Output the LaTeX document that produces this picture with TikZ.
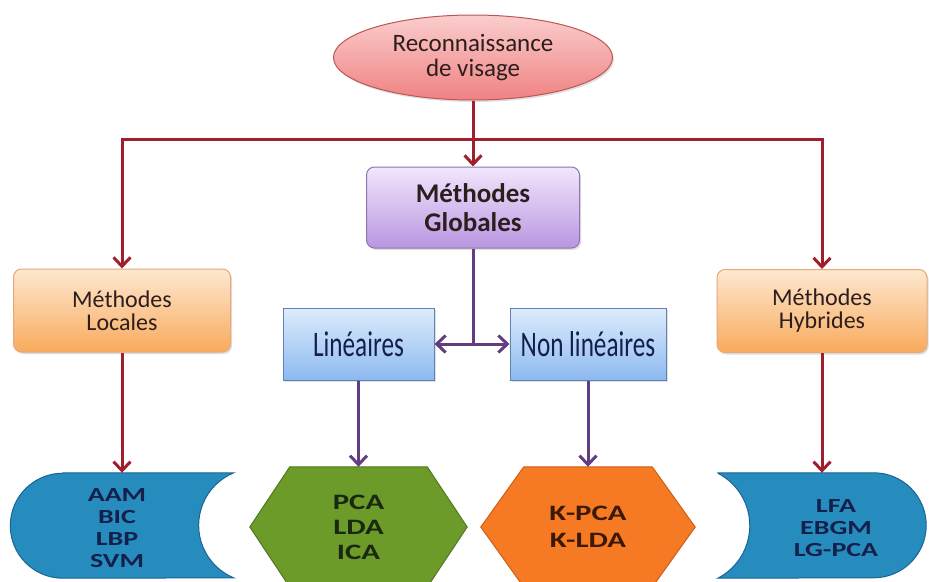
\documentclass[tikz,border=0pt]{standalone}
\usepackage{fontspec}
\setmainfont{Carlito}
\newfontfamily\condfont[FakeStretch=0.7]{Carlito}
\newfontfamily\widefont[FakeStretch=1.4]{Carlito}
\usetikzlibrary{shapes.geometric,arrows.meta,backgrounds,shadows}

\definecolor{linered}{RGB}{160,30,45}
\definecolor{linepurple}{RGB}{100,60,130}
\definecolor{pinktop}{RGB}{250,205,205}
\definecolor{pinkbot}{RGB}{240,130,130}
\definecolor{pinkline}{RGB}{190,85,85}
\definecolor{lilactop}{RGB}{242,230,252}
\definecolor{lilacbot}{RGB}{185,150,225}
\definecolor{lilacline}{RGB}{140,120,170}
\definecolor{peachtop}{RGB}{253,232,208}
\definecolor{peachbot}{RGB}{249,170,92}
\definecolor{peachline}{RGB}{228,170,120}
\definecolor{skytop}{RGB}{222,236,252}
\definecolor{skybot}{RGB}{140,185,240}
\definecolor{skyline}{RGB}{95,130,180}
\definecolor{seablue}{RGB}{38,140,190}
\definecolor{sealine}{RGB}{25,100,150}
\definecolor{olive}{RGB}{108,155,42}
\definecolor{oliveline}{RGB}{80,120,30}
\definecolor{tangerine}{RGB}{245,122,35}
\definecolor{tangline}{RGB}{205,95,20}
\definecolor{inkbrown}{RGB}{45,30,30}
\definecolor{inknavy}{RGB}{20,32,75}

\tikzset{
 redarrow/.style={line width=3pt, draw=linered, -{Straight Barb[length=9pt,width=17pt]}},
 purplearrow/.style={line width=3pt, draw=linepurple, -{Straight Barb[length=9pt,width=17pt]}},
 softshadow/.style={drop shadow={opacity=0.25,shadow xshift=1.5pt,shadow yshift=-2pt}},
 topbox/.style={rectangle, rounded corners=8pt, draw, line width=1pt, align=center,
   inner sep=0pt, text=inkbrown, softshadow},
 kindbox/.style={rectangle, draw=skyline, line width=1pt, top color=skytop, bottom color=skybot,
   inner sep=0pt, minimum height=72pt, text=inknavy, softshadow,
   font=\condfont\fontsize{36}{36}\selectfont},
 listnode/.style={inner sep=0pt, align=center, font=\widefont\bfseries\fontsize{20}{22}\selectfont}
}

\begin{document}
\begin{tikzpicture}[x=1pt,y=1pt]
\useasboundingbox (0,0) rectangle (929,-581);

% top
\node [ellipse, draw=pinkline, line width=1pt, top color=pinktop, bottom color=pinkbot,
  minimum width=279pt, minimum height=85pt, inner sep=0pt, align=center, text=inkbrown,
  font=\fontsize{25}{25}\selectfont, softshadow]
  (reco) at (473,-57.5) {Reconnaissance\\de visage};

\node [topbox, draw=lilacline, top color=lilactop, bottom color=lilacbot,
  minimum width=213pt, minimum height=81pt, font=\bfseries\fontsize{27}{29}\selectfont]
  (glob) at (473,-207.5) {Méthodes\\Globales};

\node [topbox, draw=peachline, top color=peachtop, bottom color=peachbot,
  minimum width=217pt, minimum height=83pt, font=\fontsize{24}{23}\selectfont]
  (loc) at (122,-310.5) {Méthodes\\Locales};

\node [topbox, draw=peachline, top color=peachtop, bottom color=peachbot,
  minimum width=210pt, minimum height=83pt, font=\fontsize{24}{23}\selectfont]
  (hyb) at (822,-311) {Méthodes\\Hybrides};

% middle
\node [kindbox, minimum width=151pt] (lin) at (358.5,-344) {Linéaires};
\node [kindbox, minimum width=156pt] (nonlin) at (588,-344) {Non linéaires};

% bottom
\node [minimum width=223pt, minimum height=105pt, inner sep=0pt,
  label={[listnode, text=inknavy, xshift=-5pt, yshift=-3pt]center:{AAM\\BIC\\LBP\\SVM}}]
  (aam) at (122,-525.5) {};
\node [minimum width=208pt, minimum height=105pt, inner sep=0pt,
  label={[listnode, text=inknavy, xshift=14pt, yshift=-3pt]center:{LFA\\EBGM\\LG-PCA}}]
  (lfa) at (822,-525.5) {};
\node [listnode, minimum width=217pt, minimum height=120pt, text={rgb,255:red,25;green,40;blue,15},
  font=\widefont\bfseries\fontsize{22}{25}\selectfont]
  (pca) at (358.5,-527) {PCA\\LDA\\ICA};
\node [listnode, minimum width=214pt, minimum height=120pt, text={rgb,255:red,60;green,25;blue,5},
  font=\widefont\bfseries\fontsize{22}{27}\selectfont]
  (kpca) at (588,-527) {K-PCA\\K-LDA};

\begin{pgfonlayer}{background}
\fill [seablue, draw=sealine, line width=1pt]
  ([xshift=52.5pt]aam.north west) -- (aam.north east)
  arc [start angle=112.6, end angle=247.4, radius=56.9]
  -- ([xshift=52.5pt]aam.south west)
  arc [start angle=270, end angle=90, radius=52.5] -- cycle;

\fill [seablue, draw=sealine, line width=1pt]
  (lfa.north west) -- ([xshift=-52.5pt]lfa.north east)
  arc [start angle=90, end angle=-90, radius=52.5]
  -- (lfa.south west)
  arc [start angle=-62.7, end angle=62.7, radius=59.1] -- cycle;

\fill [olive, draw=oliveline, line width=1pt]
  (pca.west) -- ([xshift=40pt]pca.north west) -- ([xshift=-40pt]pca.north east)
  -- (pca.east) -- ([xshift=-40pt]pca.south east) -- ([xshift=40pt]pca.south west) -- cycle;

\fill [tangerine, draw=tangline, line width=1pt]
  (kpca.west) -- ([xshift=43pt]kpca.north west) -- ([xshift=-43pt]kpca.north east)
  -- (kpca.east) -- ([xshift=-43pt]kpca.south east) -- ([xshift=43pt]kpca.south west) -- cycle;
\end{pgfonlayer}

% red links
\coordinate (bar) at (473,-139);
\draw [redarrow] (reco.south) -- (glob.north);
\draw [redarrow] (bar) -| (loc.north);
\draw [redarrow] (bar) -| (hyb.north);
\draw [redarrow] (loc.south) -- (aam.north);
\draw [redarrow] (hyb.south) -- (lfa.north);

% purple links
\draw [line width=3pt, draw=linepurple] (glob.south) -- (glob.south |- lin.east);
\draw [purplearrow, {Straight Barb[length=9pt,width=17pt]}-{Straight Barb[length=9pt,width=17pt]}]
  (lin.east) -- (nonlin.west);
\draw [purplearrow] (lin.south) -- (pca.north);
\draw [purplearrow] (nonlin.south) -- (kpca.north);

\end{tikzpicture}
\end{document}
